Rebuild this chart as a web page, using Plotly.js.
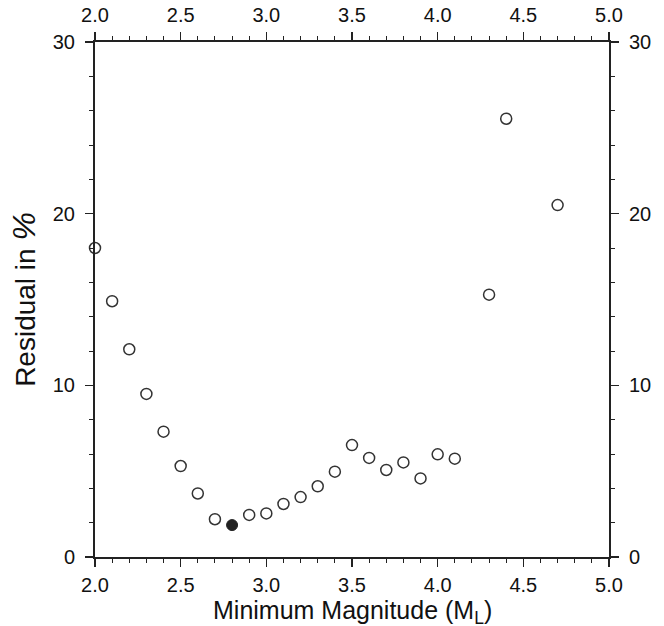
<!DOCTYPE html>
<html>
<head>
<meta charset="utf-8">
<script src="https://cdn.plot.ly/plotly-3.0.1.min.js"></script>
<style>html,body{margin:0;padding:0;background:#fff;}#chart{width:664px;height:626px;}</style>
</head>
<body>
<div id="chart"></div>
<script>
// Minimum magnitude (M_L) and residual (%)
const magnitude = [2.0, 2.1, 2.2, 2.3, 2.4, 2.5, 2.6, 2.7, 2.8, 2.9, 3.0, 3.1, 3.2, 3.3, 3.4, 3.5, 3.6, 3.7, 3.8, 3.9, 4.0, 4.1, 4.3, 4.4, 4.7];
const residual  = [18.0, 14.9, 12.1, 9.5, 7.3, 5.3, 3.7, 2.2, 1.86, 2.45, 2.54, 3.09, 3.49, 4.12, 4.97, 6.52, 5.77, 5.07, 5.51, 4.58, 5.98, 5.73, 15.28, 25.53, 20.5];
const bestMagnitude = [2.8];
const bestResidual = [1.86];
const xTickVals = [2.0, 2.5, 3.0, 3.5, 4.0, 4.5, 5.0];
const xTickText = ["2.0", "2.5", "3.0", "3.5", "4.0", "4.5", "5.0"];
const yTickVals = [0, 10, 20, 30];
const xTitle = "Minimum Magnitude (M<sub>L</sub>)";
const yTitle = "Residual in <span style=\"font-size:32px;font-style:italic\">%</span>";

const openPts = magnitude.map((m, i) => ({m, r: residual[i]})).filter(p => !bestMagnitude.includes(p.m));

const fam = "Liberation Sans, Arial, Helvetica, sans-serif";
const font = {family: fam, size: 20, color: "#111"};
const minorX = {dtick: 0.1, ticks: "outside", ticklen: 4, tickcolor: "#222", tickwidth: 1};
const minorY = {dtick: 2, ticks: "outside", ticklen: 4, tickcolor: "#222", tickwidth: 1};
const axisCommon = {
  showline: true, linecolor: "#222", linewidth: 2, mirror: false,
  ticks: "outside", ticklen: 8, tickwidth: 1.2, tickcolor: "#222",
  showgrid: false, zeroline: false, tickfont: font, fixedrange: true
};

const data = [
  {x: openPts.map(p => p.m), y: openPts.map(p => p.r), type: "scatter", mode: "markers",
   marker: {symbol: "circle-open", size: 11, color: "#333", line: {width: 1.5, color: "#333"}},
   cliponaxis: false, hoverinfo: "skip", showlegend: false},
  {x: bestMagnitude, y: bestResidual, type: "scatter", mode: "markers",
   marker: {symbol: "circle", size: 11, color: "#222", line: {width: 1, color: "#222"}},
   cliponaxis: false, hoverinfo: "skip", showlegend: false},
  {x: bestMagnitude, y: bestResidual, xaxis: "x2", yaxis: "y2", type: "scatter", mode: "markers",
   marker: {opacity: 0}, hoverinfo: "skip", showlegend: false}
];

const layout = {
  width: 664, height: 626,
  margin: {l: 94.5, r: 54.5, t: 42, b: 69},
  paper_bgcolor: "#fff", plot_bgcolor: "#fff",
  font: font,
  xaxis: Object.assign({}, axisCommon, {
    range: [2.0, 5.0], tickvals: xTickVals, ticktext: xTickText, minor: minorX,
    ticklabelstandoff: 1
  }),
  yaxis: Object.assign({}, axisCommon, {
    range: [0, 30], tickvals: yTickVals, minor: minorY,
    ticklabelstandoff: 6,
    title: {text: yTitle, font: {family: fam, size: 28, color: "#111"}, standoff: 9}
  }),
  xaxis2: Object.assign({}, axisCommon, {
    range: [2.0, 5.0], tickvals: xTickVals, ticktext: xTickText, minor: minorX,
    ticklabelstandoff: 2,
    overlaying: "x", side: "top", anchor: "y2"
  }),
  yaxis2: Object.assign({}, axisCommon, {
    range: [0, 30], tickvals: yTickVals, minor: minorY,
    ticklabelstandoff: 6,
    overlaying: "y", side: "right", anchor: "x2"
  }),
  annotations: [{
    text: xTitle, xref: "paper", yref: "paper", x: 0.5, y: -0.107,
    xanchor: "center", yanchor: "middle", showarrow: false,
    font: {family: fam, size: 25, color: "#111"}
  }]
};

Plotly.newPlot("chart", data, layout, {staticPlot: true, displayModeBar: false});
</script>
</body>
</html>
